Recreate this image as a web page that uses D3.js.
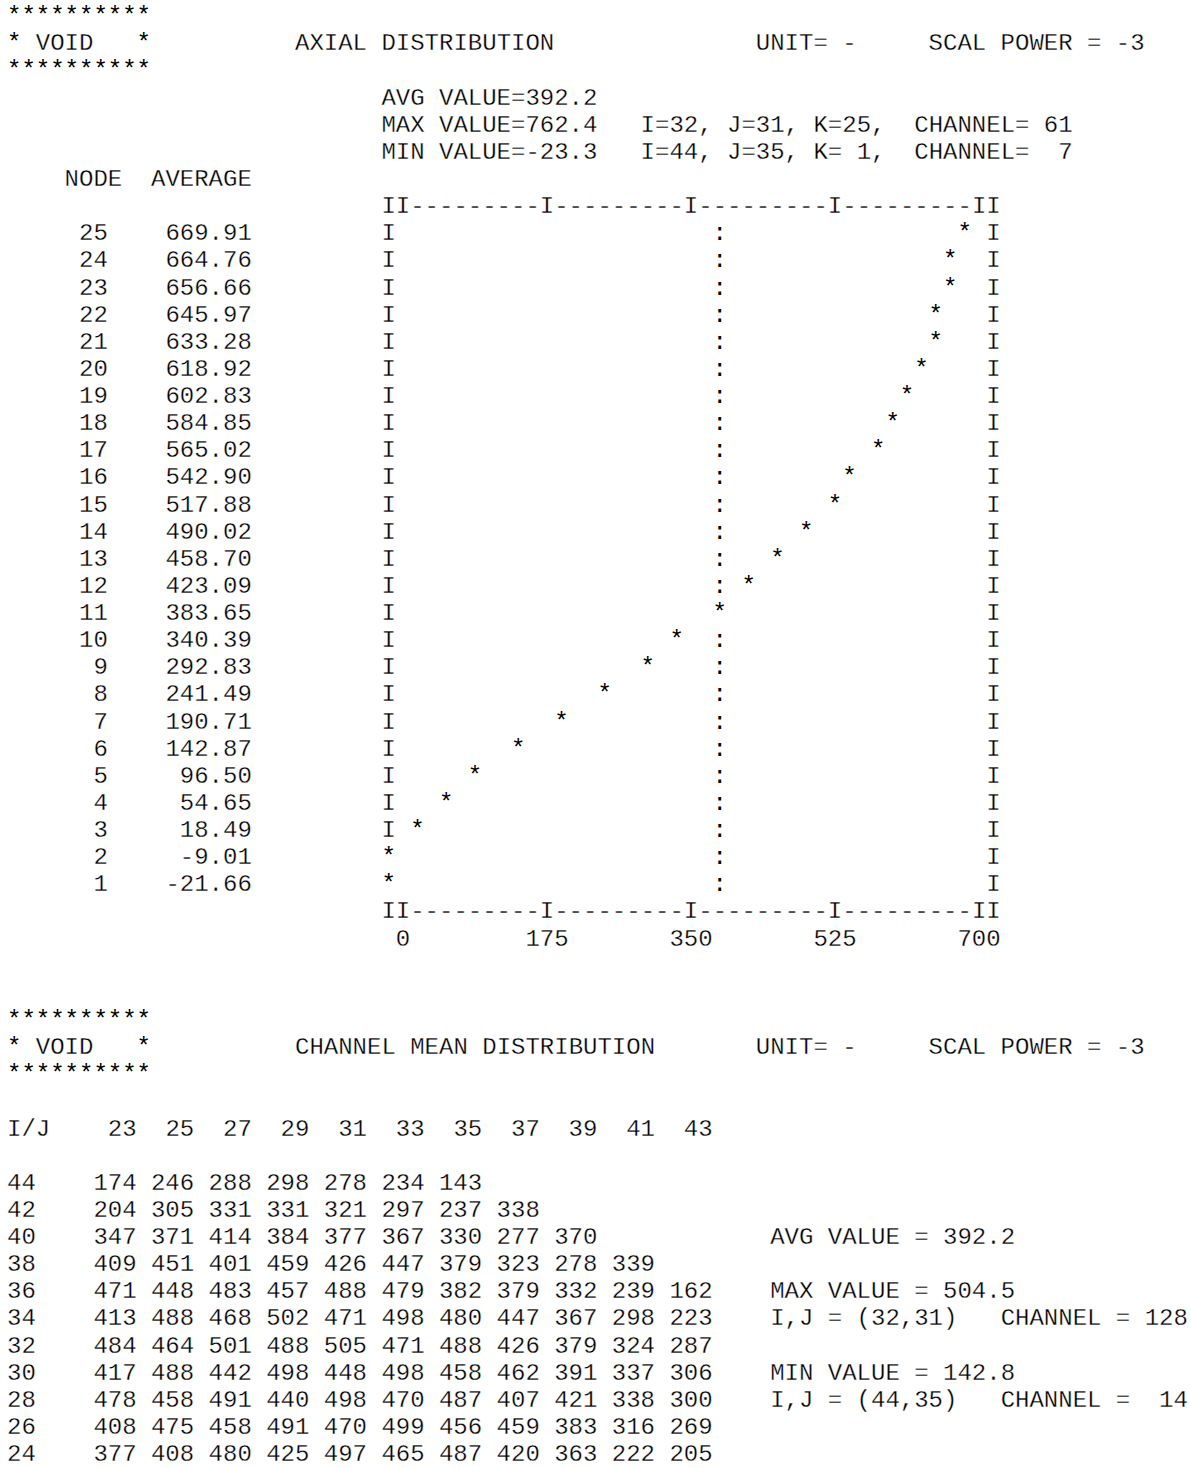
<!DOCTYPE html>
<html>
<head>
<meta charset="utf-8">
<script src="https://cdn.jsdelivr.net/npm/d3@7"></script>
<style>
  body { margin: 0; background: #ffffff; }
  svg text { white-space: pre; }
</style>
</head>
<body>
<svg id="chart" width="1191" height="1468"></svg>
<script>
// ---------------- DATA ----------------
const axialNodes = [25,24,23,22,21,20,19,18,17,16,15,14,13,12,11,10,9,8,7,6,5,4,3,2,1];
const axialAverage = [669.91,664.76,656.66,645.97,633.28,618.92,602.83,584.85,565.02,542.90,517.88,490.02,458.70,423.09,383.65,340.39,292.83,241.49,190.71,142.87,96.50,54.65,18.49,-9.01,-21.66];
const axialTicks = [0,175,350,525,700];
const axialAvgValue = 392.2;
const axialMaxValue = 762.4;
const axialMinValue = -23.3;
const axialMaxLoc = "I=32, J=31, K=25,  CHANNEL= 61";
const axialMinLoc = "I=44, J=35, K= 1,  CHANNEL=  7";

const channelJ = [23,25,27,29,31,33,35,37,39,41,43];
const channelI = [44,42,40,38,36,34,32,30,28,26,24];
const row44 = [174,246,288,298,278,234,143];
const row42 = [204,305,331,331,321,297,237,338];
const row40 = [347,371,414,384,377,367,330,277,370];
const row38 = [409,451,401,459,426,447,379,323,278,339];
const row36 = [471,448,483,457,488,479,382,379,332,239,162];
const row34 = [413,488,468,502,471,498,480,447,367,298,223];
const row32 = [484,464,501,488,505,471,488,426,379,324,287];
const row30 = [417,488,442,498,448,498,458,462,391,337,306];
const row28 = [478,458,491,440,498,470,487,407,421,338,300];
const row26 = [408,475,458,491,470,499,456,459,383,316,269];
const row24 = [377,408,480,425,497,465,487,420,363,222,205];
const channelAvg = 392.2;
const channelMax = 504.5;
const channelMin = 142.8;
const channelMaxLoc = "I,J = (32,31)   CHANNEL = 128";
const channelMinLoc = "I,J = (44,35)   CHANNEL =  14";

// ---------------- LAYOUT ----------------
const CW = 14.4, LH = 27.13, X0 = 7, Y0 = 23.2;
const colX = d3.scaleLinear().domain([0, 1]).range([X0, X0 + CW]);
const lineY = d3.scaleLinear().domain([0, 1]).range([Y0, Y0 + LH]);

const svg = d3.select("#chart");
const g = svg.append("g")
  .attr("font-family", "'Liberation Mono','Courier New',monospace")
  .attr("font-size", 24)
  .attr("fill", "#000");

function put(line, col, text, anchor, thin) {
  anchor = anchor || "start";
  let x;
  if (anchor === "end") x = colX(col + 1);
  else if (anchor === "middle") x = colX(col) + CW / 2;
  else x = colX(col);
  const t = g.append("text").attr("x", x).attr("y", lineY(line))
    .attr("text-anchor", anchor).text(text);
  if (thin !== false) t.attr("stroke", "#fff").attr("stroke-width", 0.3);
  return t;
}

// ---------------- AXIAL DISTRIBUTION ----------------
put(0, 0, "**********", "start", false);
put(1, 0, "*", "start", false);
put(1, 2, "VOID");
put(1, 9, "*", "start", false);
put(1, 20, "AXIAL DISTRIBUTION");
put(1, 52, "UNIT= -");
put(1, 64, "SCAL POWER = -3");
put(2, 0, "**********", "start", false);
put(3, 26, "AVG VALUE=" + axialAvgValue.toFixed(1));
put(4, 26, "MAX VALUE=" + axialMaxValue.toFixed(1));
put(4, 44, axialMaxLoc);
put(5, 26, "MIN VALUE=" + axialMinValue.toFixed(1));
put(5, 44, axialMinLoc);
put(6, 4, "NODE");
put(6, 10, "AVERAGE");

const frameL = 26, frameR = 68;
const tickCol = d3.scaleLinear().domain([0, 700]).range([27, 67]);
const cellCol = d3.scaleLinear().domain([0, 700]).range([27, 68]);
const starCol = v => Math.max(frameL, Math.min(frameR - 1, Math.floor(cellCol(v))));
const tickCols = axialTicks.map(t => Math.round(tickCol(t)));

function axisLine(line) {
  let s = "";
  for (let c = frameL; c <= frameR; c++) {
    s += (c === frameL || c === frameR || tickCols.includes(c)) ? "I" : "-";
  }
  put(line, frameL, s);
}
const topAxis = 7, firstRow = 8;
axisLine(topAxis);

const avgCol = starCol(axialAvgValue);
axialNodes.forEach((n, i) => {
  const line = firstRow + i;
  const v = axialAverage[i];
  put(line, 6, String(n), "end");
  put(line, 16, v.toFixed(2), "end");
  const sc = starCol(v);
  if (sc !== frameL) put(line, frameL, "I");
  if (sc !== avgCol) put(line, avgCol, ":", "start", false);
  put(line, frameR, "I");
  put(line, sc, "*", "start", false);
});
const bottomAxis = firstRow + axialNodes.length;
axisLine(bottomAxis);
axialTicks.forEach((t, i) => put(bottomAxis + 1, tickCols[i], String(t), "middle"));

// ---------------- CHANNEL MEAN DISTRIBUTION ----------------
const h2 = bottomAxis + 4;
put(h2, 0, "**********", "start", false);
put(h2 + 1, 0, "*", "start", false);
put(h2 + 1, 2, "VOID");
put(h2 + 1, 9, "*", "start", false);
put(h2 + 1, 20, "CHANNEL MEAN DISTRIBUTION");
put(h2 + 1, 52, "UNIT= -");
put(h2 + 1, 64, "SCAL POWER = -3");
put(h2 + 2, 0, "**********", "start", false);

const hdr = h2 + 4;
put(hdr, 0, "I/J");
channelJ.forEach((j, k) => put(hdr, 8 + 4 * k, String(j), "end"));

const rows = [row44, row42, row40, row38, row36, row34, row32, row30, row28, row26, row24];
const firstData = hdr + 2;
channelI.forEach((iv, r) => {
  const line = firstData + r;
  put(line, 0, String(iv));
  rows[r].forEach((v, k) => put(line, 8 + 4 * k, String(v), "end"));
});

put(firstData + 2, 53, "AVG VALUE = " + channelAvg.toFixed(1));
put(firstData + 4, 53, "MAX VALUE = " + channelMax.toFixed(1));
put(firstData + 5, 53, channelMaxLoc);
put(firstData + 7, 53, "MIN VALUE = " + channelMin.toFixed(1));
put(firstData + 8, 53, channelMinLoc);
</script>
</body>
</html>
